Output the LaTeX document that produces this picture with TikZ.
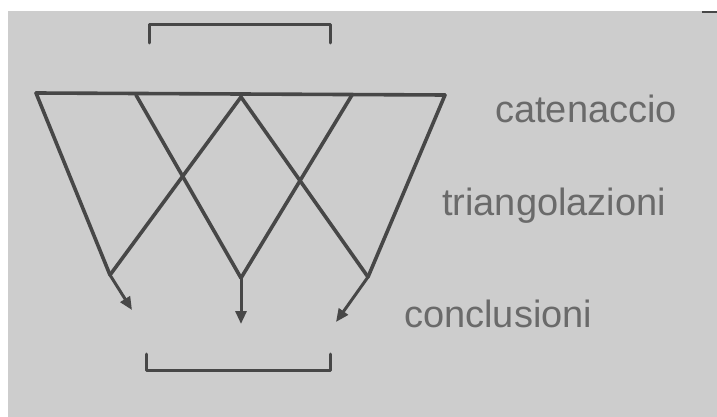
\documentclass[tikz,border=0pt]{standalone}
\usepackage{fontspec}
\setmainfont{Liberation Sans}
\usetikzlibrary{arrows.meta}
\definecolor{bg}{HTML}{CDCDCD}
\definecolor{ink}{HTML}{474747}
\definecolor{txt}{HTML}{6A6A6A}
\begin{document}
\begin{tikzpicture}[x=1pt,y=-1pt,line join=round,line cap=round,
  edge/.style={draw=ink,line width=3.6pt},
  arr/.style={draw=ink,line width=3pt,-{Triangle[length=13pt,width=11pt]}},
  brk/.style={draw=ink,line width=3pt},
  lbl/.style={text=txt,font=\fontsize{38}{40}\selectfont,anchor=base west,inner sep=0pt}]
\useasboundingbox (0,0) rectangle (717,417);
\fill[white] (0,0) rectangle (717,417);
\fill[bg] (8,11) rectangle (717,417);
\fill[ink] (702,11) rectangle (717,13.5);
% top points
\coordinate (A) at (36,93);
\coordinate (B) at (136,95);
\coordinate (C) at (241,97);
\coordinate (D) at (352,95);
\coordinate (E) at (445,95);
% junctions
\coordinate (J1) at (110,275);
\coordinate (J2) at (241,278);
\coordinate (J3) at (368,277);
% arrow tips
\coordinate (T1) at (132,310);
\coordinate (T2) at (241,324);
\coordinate (T3) at (336,322);
% brackets
\coordinate (tb1) at (149,43);
\coordinate (tb2) at (149,25);
\coordinate (tb3) at (330,25);
\coordinate (tb4) at (330,43);
\coordinate (bb1) at (146,354);
\coordinate (bb2) at (146,370);
\coordinate (bb3) at (330,370);
\coordinate (bb4) at (330,354);
\draw[brk] (tb1) -- (tb2) -- (tb3) -- (tb4);
\draw[brk] (bb1) -- (bb2) -- (bb3) -- (bb4);
\draw[edge] (A) -- (E);
\draw[edge] (A) -- (J1);
\draw[edge] (C) -- (J1);
\draw[edge] (B) -- (J2);
\draw[edge] (D) -- (J2);
\draw[edge] (C) -- (J3);
\draw[edge] (E) -- (J3);
\draw[arr] (J1) -- (T1);
\draw[arr] (J2) -- (T2);
\draw[arr] (J3) -- (T3);
\node[lbl] (cat) at (495,123) {catenaccio};
\node[lbl] (tri) at (442,215) {triangolazioni};
\node[lbl] (con) at (404,327) {conclusioni};
\end{tikzpicture}
\end{document}
